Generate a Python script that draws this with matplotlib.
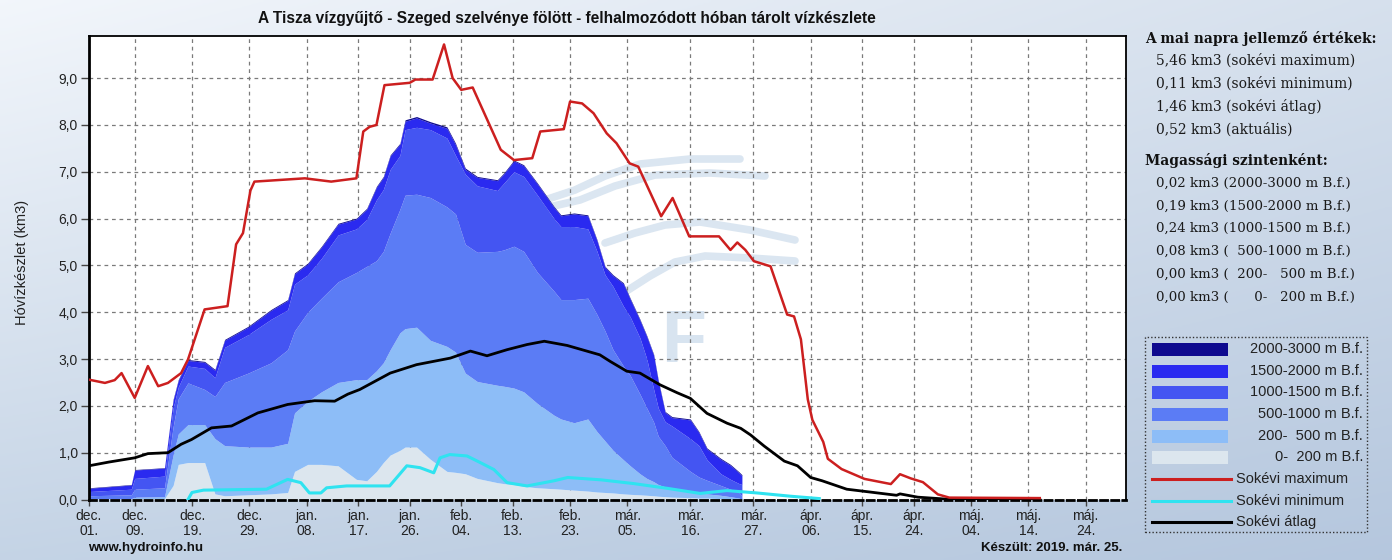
import numpy as np
import matplotlib
matplotlib.use("Agg")
import matplotlib.pyplot as plt
from matplotlib.patches import Rectangle
from matplotlib.lines import Line2D

plt.rcParams['font.family'] = 'Liberation Sans'

W, H = 1392, 560

# x values are days counted from 1 Dec 2018
tick_days = [0, 8, 18, 28, 38, 47, 56, 65, 74, 84, 94, 105, 116, 126, 135, 144, 154, 164, 174]
tick_labels = ["dec.\n01.", "dec.\n09.", "dec.\n19.", "dec.\n29.", "jan.\n08.", "jan.\n17.",
               "jan.\n26.", "feb.\n04.", "feb.\n13.", "feb.\n23.", "már.\n05.", "már.\n16.",
               "már.\n27.", "ápr.\n06.", "ápr.\n15.", "ápr.\n24.", "máj.\n04.", "máj.\n14.",
               "máj.\n24."]

# sokévi maximum
max_days = [0, 2.8, 4.5, 5.7, 8, 10.3, 12.1, 13.8, 16.1, 17.3, 20.2, 24.2, 25.7, 26.9, 28.2, 28.9,
            37.7, 42.3, 46.7, 47.9, 49, 50.2, 51.6, 56, 57, 60, 62, 63.5, 65, 67, 71.9, 74.2,
            77.4, 78.8, 82.9, 84, 86.1, 88.1, 90.4, 92.1, 94.4, 95.9, 99.9, 101.9, 104.8, 110,
            112, 113.2, 114.6, 116.1, 119, 121.9, 123.1, 124.3, 125.5, 126.3, 128.2, 129, 131.4,
            135.4, 140, 141.6, 143.5, 145.6, 148.2, 150.2, 166]
max_vals = [2.56, 2.49, 2.55, 2.70, 2.17, 2.85, 2.42, 2.49, 2.70, 2.99, 4.06, 4.13, 5.45, 5.69,
            6.60, 6.79, 6.86, 6.79, 6.86, 7.86, 7.96, 8.0, 8.85, 8.9, 8.97, 8.97, 9.72, 9.0,
            8.75, 8.8, 7.47, 7.25, 7.29, 7.86, 7.91, 8.5, 8.46, 8.25, 7.82, 7.61, 7.18, 7.11,
            6.05, 6.44, 5.62, 5.62, 5.33, 5.49, 5.33, 5.09, 4.98, 3.95, 3.91, 3.42, 2.14, 1.7,
            1.23, 0.87, 0.65, 0.44, 0.33, 0.54, 0.45, 0.37, 0.11, 0.04, 0.03]

# sokévi minimum
min_days = [17.3, 18, 20, 31, 34.7, 37, 38.5, 40.5, 41.5, 45, 52.5, 55.5, 57.8, 60.2, 61.3, 63,
            66, 68.3, 70.7, 73, 76.5, 81.2, 83.6, 89.4, 95.1, 100.9, 106.7, 111.4, 116.6,
            122.5, 127.5]
min_vals = [0.0, 0.15, 0.2, 0.22, 0.43, 0.36, 0.14, 0.14, 0.25, 0.29, 0.29, 0.72, 0.68, 0.57,
            0.89, 0.96, 0.93, 0.79, 0.64, 0.36, 0.29, 0.40, 0.47, 0.42, 0.34, 0.24, 0.13, 0.19,
            0.14, 0.07, 0.02]

# sokévi átlag
avg_days = [0, 3.5, 8, 10.3, 13.8, 16.1, 17.9, 21.4, 24.9, 29.5, 34.7, 39.4, 42.9, 45.2, 47.3,
            52.6, 57.2, 63.1, 66.6, 69.5, 73, 76.5, 79.5, 83.5, 89.2, 91, 93.9, 96.2, 99.7,
            102.7, 105, 107.9, 111.4, 113.8, 115.5, 117.9, 121.4, 123.7, 126, 128, 132.3, 137,
            141, 141.6, 144.7, 149.5, 166]
avg_vals = [0.72, 0.80, 0.89, 0.98, 1.0, 1.18, 1.28, 1.53, 1.57, 1.85, 2.03, 2.11, 2.10, 2.25,
            2.35, 2.70, 2.88, 3.02, 3.17, 3.07, 3.20, 3.31, 3.38, 3.29, 3.09, 2.95, 2.74, 2.70,
            2.45, 2.28, 2.16, 1.84, 1.63, 1.52, 1.38, 1.14, 0.82, 0.72, 0.47, 0.40, 0.22, 0.15,
            0.09, 0.12, 0.05, 0.01, 0.0]

# current season, cumulative top of each altitude band (km3)
stack_days = [0, 7.4, 8, 13.2, 14.7, 15.6, 17.3, 20.2, 22, 23.7, 27.8, 31.8, 34.7, 35.9, 38.2,
              40.6, 43.5, 46.7, 48.5, 50.2, 51.4, 52.6, 54.3, 55.2, 57.2, 59.6, 62.5, 64, 65.7,
              67.8, 71.3, 72.4, 74.2, 75.9, 78.3, 81.2, 82.4, 84.7, 87.1, 88.7, 90.1, 91.5,
              93.3, 94.5, 96.2, 97.4, 98.6, 99.4, 100.6, 101.8, 105, 106.5, 107.9, 110.3, 112,
              113.5, 114]
top_0_200 = [0.01, 0.01, 0.02, 0.02, 0.30, 0.75, 0.79, 0.79, 0.12, 0.08, 0.10, 0.12, 0.15, 0.60,
             0.75, 0.75, 0.72, 0.43, 0.40, 0.60, 0.79, 0.95, 1.05, 1.12, 1.12, 0.86, 0.60, 0.58,
             0.55, 0.45, 0.36, 0.34, 0.32, 0.28, 0.25, 0.23, 0.22, 0.20, 0.18, 0.16, 0.15, 0.14,
             0.12, 0.11, 0.10, 0.09, 0.08, 0.07, 0.06, 0.05, 0.04, 0.03, 0.03, 0.02, 0.01, 0.0,
             0.0]
top_200_500 = [0.02, 0.02, 0.05, 0.06, 0.95, 1.40, 1.60, 1.60, 1.30, 1.15, 1.12, 1.12, 1.20,
               1.85, 2.10, 2.30, 2.50, 2.56, 2.56, 2.75, 2.92, 3.20, 3.56, 3.65, 3.68, 3.40,
               3.27, 3.15, 2.70, 2.52, 2.44, 2.42, 2.38, 2.30, 2.05, 1.80, 1.72, 1.64, 1.72,
               1.45, 1.25, 1.05, 0.85, 0.72, 0.55, 0.45, 0.38, 0.32, 0.27, 0.23, 0.17, 0.15,
               0.12, 0.09, 0.06, 0.03, 0.0]
top_500_1000 = [0.08, 0.10, 0.22, 0.25, 1.55, 2.15, 2.49, 2.35, 2.20, 2.50, 2.70, 2.92, 3.20,
                3.60, 4.00, 4.30, 4.65, 4.85, 4.98, 5.10, 5.30, 5.69, 6.20, 6.50, 6.52, 6.45,
                6.25, 6.10, 5.45, 5.28, 5.30, 5.33, 5.41, 5.30, 4.85, 4.45, 4.27, 4.27, 4.30,
                3.95, 3.60, 3.20, 2.85, 2.65, 2.25, 1.95, 1.65, 1.35, 1.15, 0.90, 0.60, 0.48,
                0.41, 0.30, 0.22, 0.15, 0.08]
top_1000_1500 = [0.17, 0.22, 0.45, 0.50, 1.95, 2.40, 2.85, 2.80, 2.60, 3.25, 3.52, 3.85, 4.05,
                 4.60, 4.80, 5.15, 5.65, 5.78, 5.98, 6.40, 6.62, 7.05, 7.35, 7.90, 7.95, 7.90,
                 7.72, 7.35, 6.95, 6.70, 6.60, 6.75, 7.00, 6.90, 6.50, 6.00, 5.83, 5.83, 5.78,
                 5.30, 4.80, 4.55, 4.13, 3.90, 3.45, 3.00, 2.35, 1.95, 1.66, 1.57, 1.30, 1.15,
                 0.85, 0.55, 0.43, 0.34, 0.32]
top_1500_2000 = [0.24, 0.31, 0.63, 0.67, 2.12, 2.54, 2.97, 2.93, 2.76, 3.40, 3.68, 4.04, 4.25,
                 4.82, 5.03, 5.39, 5.88, 5.99, 6.20, 6.67, 6.88, 7.34, 7.59, 8.08, 8.15, 8.04,
                 7.93, 7.58, 7.05, 6.88, 6.81, 6.95, 7.23, 7.13, 6.74, 6.24, 6.06, 6.10, 6.06,
                 5.53, 4.96, 4.78, 4.61, 4.28, 3.83, 3.48, 3.08, 2.53, 1.86, 1.75, 1.70, 1.43,
                 1.08, 0.86, 0.73, 0.57, 0.51]
top_2000_3000 = [0.25, 0.32, 0.64, 0.68, 2.14, 2.56, 2.99, 2.95, 2.78, 3.42, 3.70, 4.06, 4.27,
                 4.84, 5.05, 5.41, 5.90, 6.01, 6.22, 6.69, 6.90, 7.36, 7.61, 8.11, 8.18, 8.07,
                 7.96, 7.61, 7.08, 6.90, 6.83, 6.97, 7.25, 7.15, 6.76, 6.26, 6.08, 6.12, 6.08,
                 5.55, 4.98, 4.80, 4.63, 4.30, 3.85, 3.50, 3.10, 2.55, 1.88, 1.77, 1.72, 1.45,
                 1.10, 0.88, 0.75, 0.59, 0.53]

band_names = ["2000-3000 m B.f.", "1500-2000 m B.f.", "1000-1500 m B.f.", "500-1000 m B.f.",
              "200-  500 m B.f.", "0-  200 m B.f."]
band_colors = ['#0f0a8f', '#2a2af0', '#4455f2', '#5b7cf5', '#8dbdf7', '#dce6ee']

panel_today = ["5,46 km3 (sokévi maximum)", "0,11 km3 (sokévi minimum)",
               "1,46 km3 (sokévi átlag)", "0,52 km3 (aktuális)"]
panel_levels = ["0,02 km3 (2000-3000 m B.f.)", "0,19 km3 (1500-2000 m B.f.)",
                "0,24 km3 (1000-1500 m B.f.)", "0,08 km3 (  500-1000 m B.f.)",
                "0,00 km3 (  200-   500 m B.f.)", "0,00 km3 (      0-   200 m B.f.)"]


def fx(x):
    return x / W


def fy(y):
    return 1 - y / H


fig = plt.figure(figsize=(W / 100, H / 100), dpi=100)

# background gradient
bg = fig.add_axes([0, 0, 1, 1], zorder=-10)
gy, gx = np.mgrid[0:1:200j, 0:1:200j]
top_c = np.array([0.95, 0.965, 0.985]) * (1 - gx[..., None]) + np.array([0.84, 0.88, 0.93]) * gx[..., None]
bot_c = np.array([0.77, 0.83, 0.90]) * (1 - gx[..., None]) + np.array([0.71, 0.78, 0.87]) * gx[..., None]
img = top_c * (1 - gy[..., None]) + bot_c * gy[..., None]
bg.imshow(img, aspect='auto', extent=[0, 1, 0, 1])
bg.axis('off')

ax = fig.add_axes([fx(88.9), fy(499.5), fx(1125.7) - fx(88.9), fy(36) - fy(499.5)])
ax.set_facecolor('white')
ax.set_xlim(0, 181)
ax.set_ylim(0, 9.9)
ax.set_axisbelow(True)


# faint logo watermark
def wave(pts):
    p = np.array(pts, dtype=float)
    ax.plot((p[:, 0] - 88.9) / (1125.7 - 88.9), (499.5 - p[:, 1]) / (499.5 - 36),
            transform=ax.transAxes, color='#dbe6f1', lw=5.5, solid_capstyle='round',
            solid_joinstyle='round', zorder=0.3)


wave([(545, 200), (575, 190), (605, 176), (640, 164), (690, 159), (740, 159)])
wave([(545, 208), (580, 200), (615, 186), (655, 175), (710, 173), (765, 176)])
wave([(605, 243), (635, 233), (665, 225), (700, 222), (750, 230), (795, 240)])
wave([(625, 292), (650, 276), (675, 262), (705, 256), (750, 258), (795, 261)])
ax.text((684 - 88.9) / (1125.7 - 88.9), (499.5 - 342) / (499.5 - 36), "F",
        transform=ax.transAxes, ha='center', va='center', fontsize=53, fontweight='bold',
        color='#d8e4f0', zorder=0.3)

# stacked altitude bands
tops = [top_0_200, top_200_500, top_500_1000, top_1000_1500, top_1500_2000, top_2000_3000]
lower = np.zeros(len(stack_days))
for top, color in zip(tops, band_colors[::-1]):
    ax.fill_between(stack_days, lower, top, color=color, lw=0, zorder=2)
    lower = np.array(top)

ax.plot(min_days, min_vals, color='#2fe3f0', lw=2.2, zorder=4)
ax.plot(avg_days, avg_vals, color='black', lw=2.0, zorder=5)
ax.plot(max_days, max_vals, color='#cc1f1f', lw=1.8, zorder=6)

ax.grid(True, color='#7a7a7a', ls=(0, (3, 3)), lw=0.9)
ax.set_yticks(range(10))
ax.set_yticklabels([f"{i},0" for i in range(10)])
ax.set_xticks(tick_days)
ax.set_xticklabels(tick_labels, linespacing=1.1)
ax.tick_params(axis='y', direction='out', length=6, width=1, color='#444', pad=2,
               labelsize=10, labelcolor='#222')
ax.tick_params(axis='x', direction='out', length=4, width=1, color='#444', pad=3,
               labelsize=10, labelcolor='#222')

ax.spines['left'].set_linewidth(2.0)
ax.spines['bottom'].set_linewidth(2.0)
ax.spines['bottom'].set_linestyle((0, (2.5, 1.5)))
ax.spines['top'].set_linewidth(1.3)
ax.spines['right'].set_linewidth(1.3)

fig.text(fx(567), fy(18), "A Tisza vízgyűjtő - Szeged szelvénye fölött - felhalmozódott hóban "
         "tárolt vízkészlete", ha='center', va='center', fontsize=11.2, fontweight='bold',
         color='#111')
fig.text(fx(22), fy(262), "Hóvízkészlet (km3)", rotation=90, ha='center', va='center',
         fontsize=10.5, color='#222')
fig.text(fx(88), fy(548), "www.hydroinfo.hu", ha='left', va='center', fontsize=9.5,
         fontweight='bold', color='#111')
fig.text(fx(1122), fy(548), "Készült: 2019. már. 25.", ha='right', va='center', fontsize=9.5,
         fontweight='bold', color='#111')

# right-hand summary panel
serif = 'DejaVu Serif'
fig.text(fx(1145), fy(38), "A mai napra jellemző értékek:", ha='left', va='center',
         fontsize=9.9, fontweight='bold', family=serif, color='#111')
for i, s in enumerate(panel_today):
    fig.text(fx(1156), fy(61 + 23 * i), s, ha='left', va='center', fontsize=10.0,
             family=serif, color='#1a1a1a')
fig.text(fx(1145), fy(160), "Magassági szintenként:", ha='left', va='center',
         fontsize=9.9, fontweight='bold', family=serif, color='#111')
for i, s in enumerate(panel_levels):
    fig.text(fx(1156), fy(183 + 22.8 * i), s, ha='left', va='center', fontsize=9.6,
             family=serif, color='#1a1a1a')

# legend box
fig.add_artist(Rectangle((fx(1145), fy(532)), fx(1367) - fx(1145), fy(337) - fy(532),
                         transform=fig.transFigure, fill=False, ec='#333', lw=1,
                         ls=(0, (1, 1.5))))
row_y = [349, 371, 392, 414, 436, 457, 479, 501, 522]
for i, (name, color) in enumerate(zip(band_names, band_colors)):
    y = row_y[i]
    fig.add_artist(Rectangle((fx(1152), fy(y + 6.5)), fx(1228) - fx(1152), fy(y - 6.5) - fy(y + 6.5),
                             transform=fig.transFigure, color=color, lw=0))
    fig.text(fx(1363), fy(y), name, ha='right', va='center', fontsize=10.5, color='#222')
line_items = [("Sokévi maximum", '#cc1f1f'), ("Sokévi minimum", '#2fe3f0'),
              ("Sokévi átlag", 'black')]
for j, (name, color) in enumerate(line_items):
    y = row_y[6 + j]
    fig.add_artist(Line2D([fx(1152), fx(1231)], [fy(y), fy(y)], transform=fig.transFigure,
                          color=color, lw=2.2))
    fig.text(fx(1236), fy(y), name, ha='left', va='center', fontsize=10.5, color='#222')

fig.savefig("out.png", dpi=100)
